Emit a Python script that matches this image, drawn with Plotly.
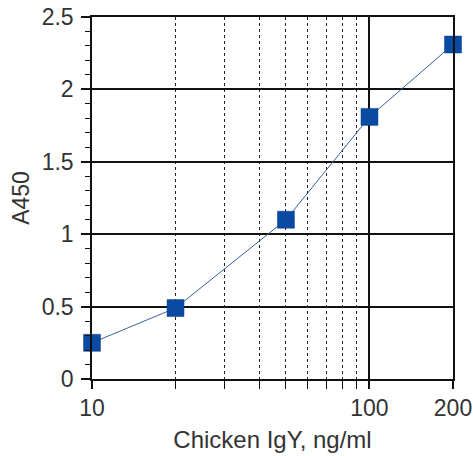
import plotly.graph_objects as go

conc = [10, 20, 50, 100, 200]
a450 = [0.25, 0.49, 1.10, 1.81, 2.31]
x_tickvals = [10, 100, 200]
x_ticktext = ["10", "100", "200"]
y_tickvals = [0, 0.5, 1, 1.5, 2, 2.5]
y_ticktext = ["0", "0.5", "1", "1.5", "2", "2.5"]

fig = go.Figure()
fig.add_trace(go.Scatter(
    x=conc, y=a450, mode="lines+markers",
    line=dict(color="#3b5f96", width=1),
    marker=dict(symbol="square", size=17, color="#0a4aa3",
                line=dict(color="#0a3f8c", width=0.5)),
    showlegend=False, cliponaxis=False,
))

fig.update_layout(
    width=473, height=456,
    margin=dict(l=92, r=20, t=17, b=77),
    paper_bgcolor="white", plot_bgcolor="white",
    font=dict(family="Liberation Sans, Arial, sans-serif", color="#333", size=22),
    xaxis=dict(
        type="log", range=[1, 2.30103], automargin=False,
        tickvals=x_tickvals, ticktext=x_ticktext, ticklabeloverflow="allow",
        showgrid=True, gridcolor="#111", gridwidth=1.5,
        ticks="outside", ticklen=8, tickwidth=1.5, tickcolor="#111",
        showline=True, linecolor="#111", linewidth=1.5, mirror=True,
        zeroline=False,
        minor=dict(dtick="D1", showgrid=True, gridcolor="#222", griddash="dot",
                   gridwidth=1, ticks="outside", ticklen=8, tickwidth=1.2, tickcolor="#111"),
        title=dict(text="Chicken IgY, ng/ml", font=dict(size=24), standoff=11),
        tickfont=dict(size=23),
    ),
    yaxis=dict(
        range=[0, 2.5], automargin=False,
        tickvals=y_tickvals, ticktext=y_ticktext, ticklabeloverflow="allow",
        showgrid=True, gridcolor="#111", gridwidth=1.5,
        ticks="outside", ticklen=9, tickwidth=1.5, tickcolor="#111",
        showline=True, linecolor="#111", linewidth=1.5, mirror=True,
        zeroline=False, ticklabelstandoff=3,
        minor=dict(dtick=0.1, ticks="outside", ticklen=5, tickwidth=1.2, tickcolor="#111",
                   showgrid=False),
        title=dict(text="A450", font=dict(size=23), standoff=6),
        tickfont=dict(size=23),
    ),
)

# Remove the default 8px page margin so the figure fills the window exactly.
fig.write_html(
    "out.html",
    config={"displayModeBar": False},
    post_script="document.body.style.margin='0';document.body.style.overflow='hidden';",
)
